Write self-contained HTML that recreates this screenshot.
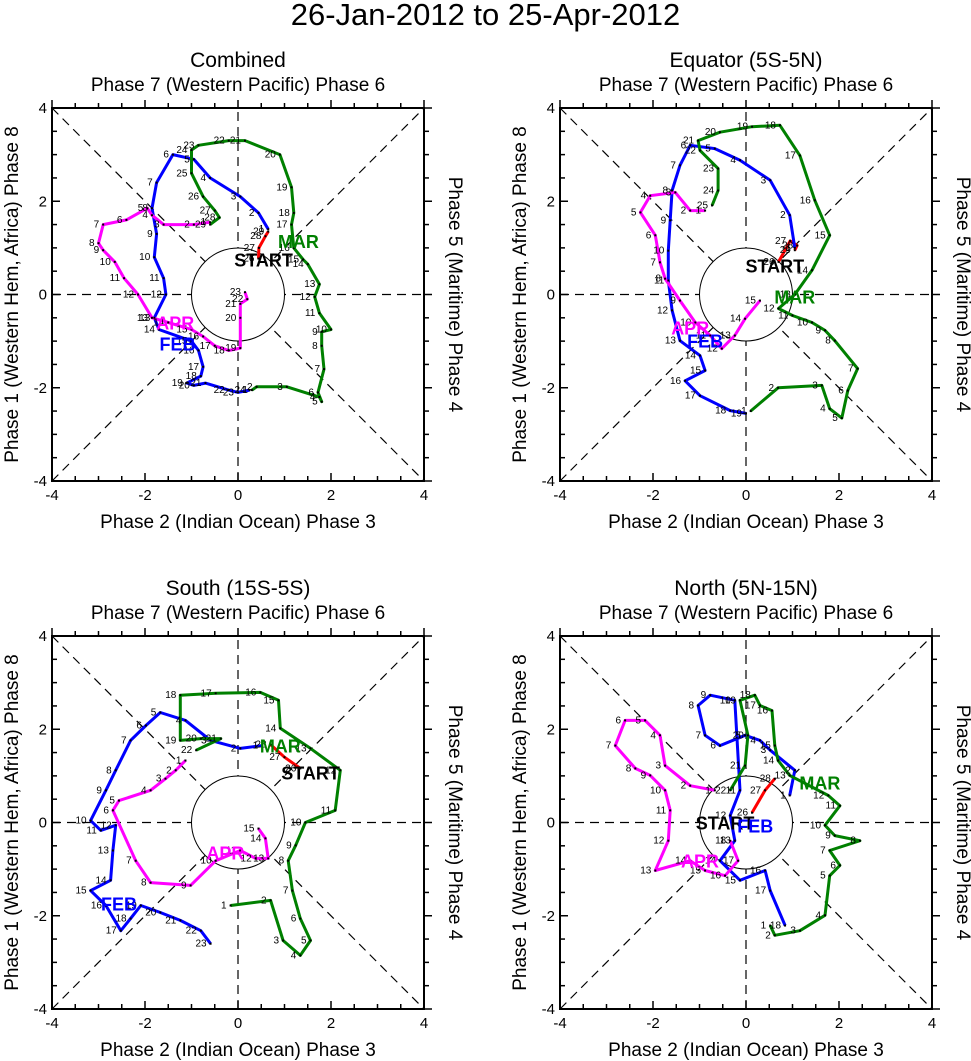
<!DOCTYPE html>
<html><head><meta charset="utf-8">
<style>
html,body{margin:0;padding:0;background:#fff;}
svg{display:block;font-family:"Liberation Sans",Helvetica,Arial,sans-serif;}
</style></head>
<body>
<svg id="chart" width="971" height="1061" viewBox="0 0 971 1061" xmlns="http://www.w3.org/2000/svg">
<text x="485.5" y="25" font-size="31" text-anchor="middle">26-Jan-2012 to 25-Apr-2012</text>
</svg>
<script>
// ---- data (RMM1, RMM2) per panel per month ----
const combinedJan = [[0.44,0.77],[0.45,1.0],[0.59,1.25],[0.65,1.35]];
const combinedFeb = [[0.65,1.4],[0.44,1.75],[0.05,2.1],[-0.6,2.5],[-0.95,2.9],[-1.4,3.0],[-1.75,2.4],[-1.85,1.85],[-1.75,1.3],[-1.8,0.8],[-1.6,0.35],[-1.55,0.0],[-1.8,-0.5],[-1.7,-0.75],[-1.0,-1.0],[-0.85,-1.2],[-0.75,-1.55],[-0.8,-1.75],[-1.1,-1.9],[-0.95,-1.95],[-0.7,-1.9],[-0.2,-2.05],[0.0,-2.1],[0.25,-2.05]];
const combinedMar = [[0.3,-2.05],[0.4,-1.98],[1.05,-1.98],[1.75,-2.2],[1.8,-2.3],[1.72,-2.1],[1.85,-1.6],[1.8,-1.1],[1.8,-0.8],[2.0,-0.75],[1.75,-0.4],[1.65,-0.05],[1.75,0.22],[1.5,0.65],[1.4,0.75],[1.2,1.0],[1.15,1.5],[1.2,1.75],[1.15,2.3],[0.9,3.0],[0.15,3.3],[-0.2,3.3],[-0.85,3.2],[-1.0,3.1],[-1.0,2.6],[-0.75,2.1],[-0.5,1.8],[-0.4,1.65],[-0.6,1.5]];
const combinedApr = [[-0.6,1.55],[-0.95,1.5],[-1.6,1.5],[-1.85,1.7],[-1.95,1.85],[-2.4,1.6],[-2.9,1.5],[-3.0,1.1],[-2.9,0.95],[-2.65,0.7],[-2.45,0.35],[-2.15,0.0],[-1.85,-0.5],[-1.5,-0.6],[-1.0,-0.75],[-0.75,-0.9],[-0.5,-1.1],[-0.2,-1.2],[0.05,-1.15],[0.05,-0.5],[0.05,-0.2],[0.2,-0.1],[0.15,0.05]];
const combinedLabels = [["START",0.55,0.75],["FEB",-1.3,-1.05],["MAR",1.3,1.15],["APR",-1.35,-0.6]];

const equatorJan = [[0.7,0.7],[0.95,1.15],[1.1,1.05],[1.05,0.95]];
const equatorFeb = [[1.05,1.0],[0.94,1.7],[0.52,2.45],[-0.13,2.88],[-0.67,3.13],[-1.2,3.2],[-1.42,2.77],[-1.59,2.23],[-1.63,1.59],[-1.67,0.94],[-1.67,0.3],[-1.59,-0.34],[-1.42,-0.99],[-0.99,-1.31],[-0.88,-1.63],[-1.31,-1.85],[-0.99,-2.17],[-0.34,-2.49],[0.0,-2.55]];
const equatorMar = [[0.1,-2.5],[0.69,-2.0],[1.63,-1.95],[1.8,-2.45],[2.06,-2.65],[2.19,-2.06],[2.4,-1.59],[1.91,-0.99],[1.7,-0.77],[1.42,-0.6],[1.0,-0.45],[0.7,-0.3],[1.05,0.0],[1.42,0.52],[1.8,1.27],[1.48,2.02],[1.16,2.98],[0.73,3.63],[0.13,3.6],[-0.56,3.48],[-1.03,3.3],[-0.99,3.09],[-0.6,2.7],[-0.6,2.23],[-0.73,1.91]];
const equatorApr = [[-0.88,1.8],[-1.2,1.8],[-1.52,2.19],[-2.06,2.12],[-2.27,1.76],[-1.95,1.27],[-1.85,0.69],[-1.74,0.34],[-1.42,-0.13],[-1.09,-0.6],[-0.77,-0.88],[-0.52,-1.16],[-0.24,-0.88],[-0.02,-0.52],[0.3,-0.13]];
const equatorLabels = [["START",0.62,0.62],["FEB",-0.88,-0.99],["MAR",1.05,-0.04],["APR",-1.2,-0.71]];

const southJan = [[1.34,1.16],[1.0,1.4],[0.7,1.67]];
const southFeb = [[0.52,1.65],[0.05,1.59],[-0.59,1.76],[-1.13,2.19],[-1.67,2.36],[-1.98,2.08],[-2.31,1.76],[-2.63,1.12],[-2.84,0.69],[-3.17,0.04],[-2.95,-0.17],[-2.63,-0.06],[-2.69,-0.6],[-2.74,-1.24],[-3.17,-1.46],[-2.84,-1.78],[-2.52,-2.32],[-2.31,-2.06],[-2.09,-1.78],[-1.67,-1.93],[-1.24,-2.1],[-0.8,-2.32],[-0.59,-2.6]];
const southMar = [[-0.16,-1.78],[0.7,-1.67],[0.97,-2.53],[1.34,-2.85],[1.56,-2.53],[1.34,-2.06],[1.17,-1.46],[1.08,-0.82],[1.24,-0.49],[1.45,0.0],[2.09,0.26],[2.2,1.12],[1.56,1.59],[0.91,2.02],[0.87,2.62],[0.48,2.79],[-0.48,2.77],[-1.24,2.73],[-1.24,1.76],[-0.8,1.8],[-0.37,1.8],[-0.9,1.55]];
const southApr = [[-1.13,1.33],[-1.34,1.12],[-1.56,0.94],[-1.88,0.69],[-2.56,0.47],[-2.69,0.26],[-2.2,-0.82],[-1.88,-1.29],[-1.02,-1.35],[-0.48,-0.82],[0.05,-0.6],[0.38,-0.77],[0.65,-0.77],[0.59,-0.34],[0.44,-0.13]];
const southLabels = [["START",1.56,1.07],["FEB",-2.56,-1.74],["MAR",0.91,1.65],["APR",-0.27,-0.64]];

const northJan = [[0.13,0.21],[0.41,0.69],[0.62,0.94]];
const northFeb = [[0.94,0.58],[1.05,1.12],[0.52,1.55],[0.3,1.76],[-0.02,1.87],[-0.56,1.65],[-0.88,1.87],[-1.03,2.51],[-0.77,2.73],[-0.24,2.62],[-0.13,0.69],[-0.34,0.15],[-0.24,-0.39],[-0.56,-0.82],[-0.13,-1.24],[0.41,-1.03],[0.52,-1.46],[0.84,-2.21]];
const northMar = [[0.52,-2.21],[0.62,-2.42],[1.16,-2.32],[1.7,-1.99],[1.8,-1.14],[2.02,-0.92],[1.8,-0.6],[2.45,-0.39],[1.91,-0.28],[1.7,-0.06],[2.02,0.36],[1.77,0.58],[0.94,1.01],[0.69,1.33],[0.62,1.65],[0.56,2.4],[0.3,2.51],[0.19,2.73],[-0.13,2.62],[0.04,1.87],[-0.02,1.22],[-0.34,0.69]];
const northApr = [[-0.67,0.69],[-1.2,0.79],[-1.74,1.22],[-1.85,1.87],[-2.17,2.19],[-2.6,2.19],[-2.81,1.65],[-2.38,1.16],[-2.06,1.01],[-1.74,0.69],[-1.63,0.26],[-1.67,-0.39],[-1.95,-1.03],[-1.2,-0.82],[-0.88,-1.03],[-0.45,-1.14],[-0.17,-0.82],[-0.34,-0.39]];
const northLabels = [["START",-0.45,0.0],["FEB",0.2,-0.06],["MAR",1.59,0.86],["APR",-0.99,-0.82]];

const tickValues = [-4,-2,0,2,4];
const monthColors = {JAN:"#ff0000",FEB:"#0000ff",MAR:"#008000",APR:"#ff00ff"};
const monthStartDay = {JAN:26,FEB:1,MAR:1,APR:1};

const NS="http://www.w3.org/2000/svg";
const svg=document.getElementById('chart');
function mk(tag,attrs,parent){const e=document.createElementNS(NS,tag);for(const k in attrs)e.setAttribute(k,attrs[k]);(parent||svg).appendChild(e);return e;}

const panels=[
 {key:"combined",title:"Combined",ox:0,oy:0,jan:combinedJan,feb:combinedFeb,mar:combinedMar,apr:combinedApr,labels:combinedLabels},
 {key:"equator",title:"Equator (5S-5N)",ox:508,oy:0,jan:equatorJan,feb:equatorFeb,mar:equatorMar,apr:equatorApr,labels:equatorLabels},
 {key:"south",title:"South (15S-5S)",ox:0,oy:528,jan:southJan,feb:southFeb,mar:southMar,apr:southApr,labels:southLabels},
 {key:"north",title:"North (5N-15N)",ox:508,oy:528,jan:northJan,feb:northFeb,mar:northMar,apr:northApr,labels:northLabels}
];

panels.forEach(p=>{
  const L=52+p.ox,R=424+p.ox,T=108+p.oy,B=481+p.oy;
  const sx=v=>L+(v+4)/8*(R-L);
  const sy=v=>B-(v+4)/8*(B-T);
  const g=mk('g',{});
  
  
  const t=mk('text',{x:(L+R)/2,y:67+p.oy,'font-size':21,'text-anchor':'middle'},g);t.textContent=p.title;
  
  const t2=mk('text',{x:(L+R)/2,y:91+p.oy,'font-size':19,'text-anchor':'middle'},g);t2.textContent="Phase 7 (Western Pacific) Phase 6";
  
  const t3=mk('text',{x:(L+R)/2,y:528+p.oy,'font-size':19,'text-anchor':'middle'},g);t3.textContent="Phase 2 (Indian Ocean) Phase 3";
  
  const cy=(T+B)/2;
  const t4=mk('text',{x:0,y:0,'font-size':19,'text-anchor':'middle',transform:`translate(${L-34},${cy}) rotate(-90)`},g);t4.textContent="Phase 1 (Western Hem, Africa) Phase 8";
  
  const t5=mk('text',{x:0,y:0,'font-size':19,'text-anchor':'middle',transform:`translate(${R+25},${cy}) rotate(90)`},g);t5.textContent="Phase 5 (Maritime) Phase 4";
  
  const dash={stroke:'#000','stroke-width':1.2,'stroke-dasharray':'9,6',fill:'none'};
  [[-4,-4,4,4],[-4,4,4,-4],[-4,0,4,0],[0,-4,0,4]].forEach(s=>{
    const ln=mk('line',Object.assign({x1:sx(s[0]),y1:sy(s[1]),x2:sx(s[2]),y2:sy(s[3])},dash),g);
    
  });
  const c=mk('circle',{cx:sx(0),cy:sy(0),r:sx(1)-sx(0),fill:'#fff',stroke:'#000','stroke-width':1},g);
  
  const fr=mk('rect',{x:L,y:T,width:R-L,height:B-T,fill:'none',stroke:'#000','stroke-width':2},g);
  
  for(let v=-4;v<=4;v+=0.5){
    const major=Number.isInteger(v/2)?8:(Number.isInteger(v)?5:5);
    mk('line',{x1:sx(v),y1:B,x2:sx(v),y2:B-major,stroke:'#000','stroke-width':1.5},g);
    mk('line',{x1:sx(v),y1:T,x2:sx(v),y2:T-major,stroke:'#000','stroke-width':1.5},g);
    mk('line',{x1:L,y1:sy(v),x2:L+major,y2:sy(v),stroke:'#000','stroke-width':1.5},g);
    mk('line',{x1:R,y1:sy(v),x2:R+major,y2:sy(v),stroke:'#000','stroke-width':1.5},g);
  }
  tickValues.forEach(v=>{
    const a=mk('text',{x:sx(v),y:B+19,'font-size':15,'text-anchor':'middle'},g);a.textContent=v;
    
    const b=mk('text',{x:L-5,y:sy(v)+5,'font-size':15,'text-anchor':'end'},g);b.textContent=v;
    
  });
  const months=[["JAN",p.jan],["FEB",p.feb],["MAR",p.mar],["APR",p.apr]];
  months.forEach(([m,pts])=>{
    const d=pts.map((q,i)=>(i?'L':'M')+sx(q[0]).toFixed(1)+','+sy(q[1]).toFixed(1)).join(' ');
    const path=mk('path',{d:d,fill:'none',stroke:monthColors[m],'stroke-width':3,'stroke-linejoin':'round'},g);
    
    
  });
  months.forEach(([m,pts])=>{
    pts.forEach((q,i)=>{
      mk('rect',{x:sx(q[0])-1,y:sy(q[1])-1,width:2,height:2,fill:'#000'},g);
      const lb=mk('text',{x:sx(q[0])-4,y:sy(q[1])+3,'font-size':10,'text-anchor':'end'},g);
      lb.textContent=monthStartDay[m]+i;
      
      
    });
  });
  p.labels.forEach(l=>{
    const col=l[0]==="START"?"#000":monthColors[l[0]];
    const lt=mk('text',{x:sx(l[1]),y:sy(l[2])+7,'font-size':18,'font-weight':'bold','text-anchor':'middle',fill:col},g);
    lt.textContent=l[0];
    
    
  });
});
</script>
</body></html>
